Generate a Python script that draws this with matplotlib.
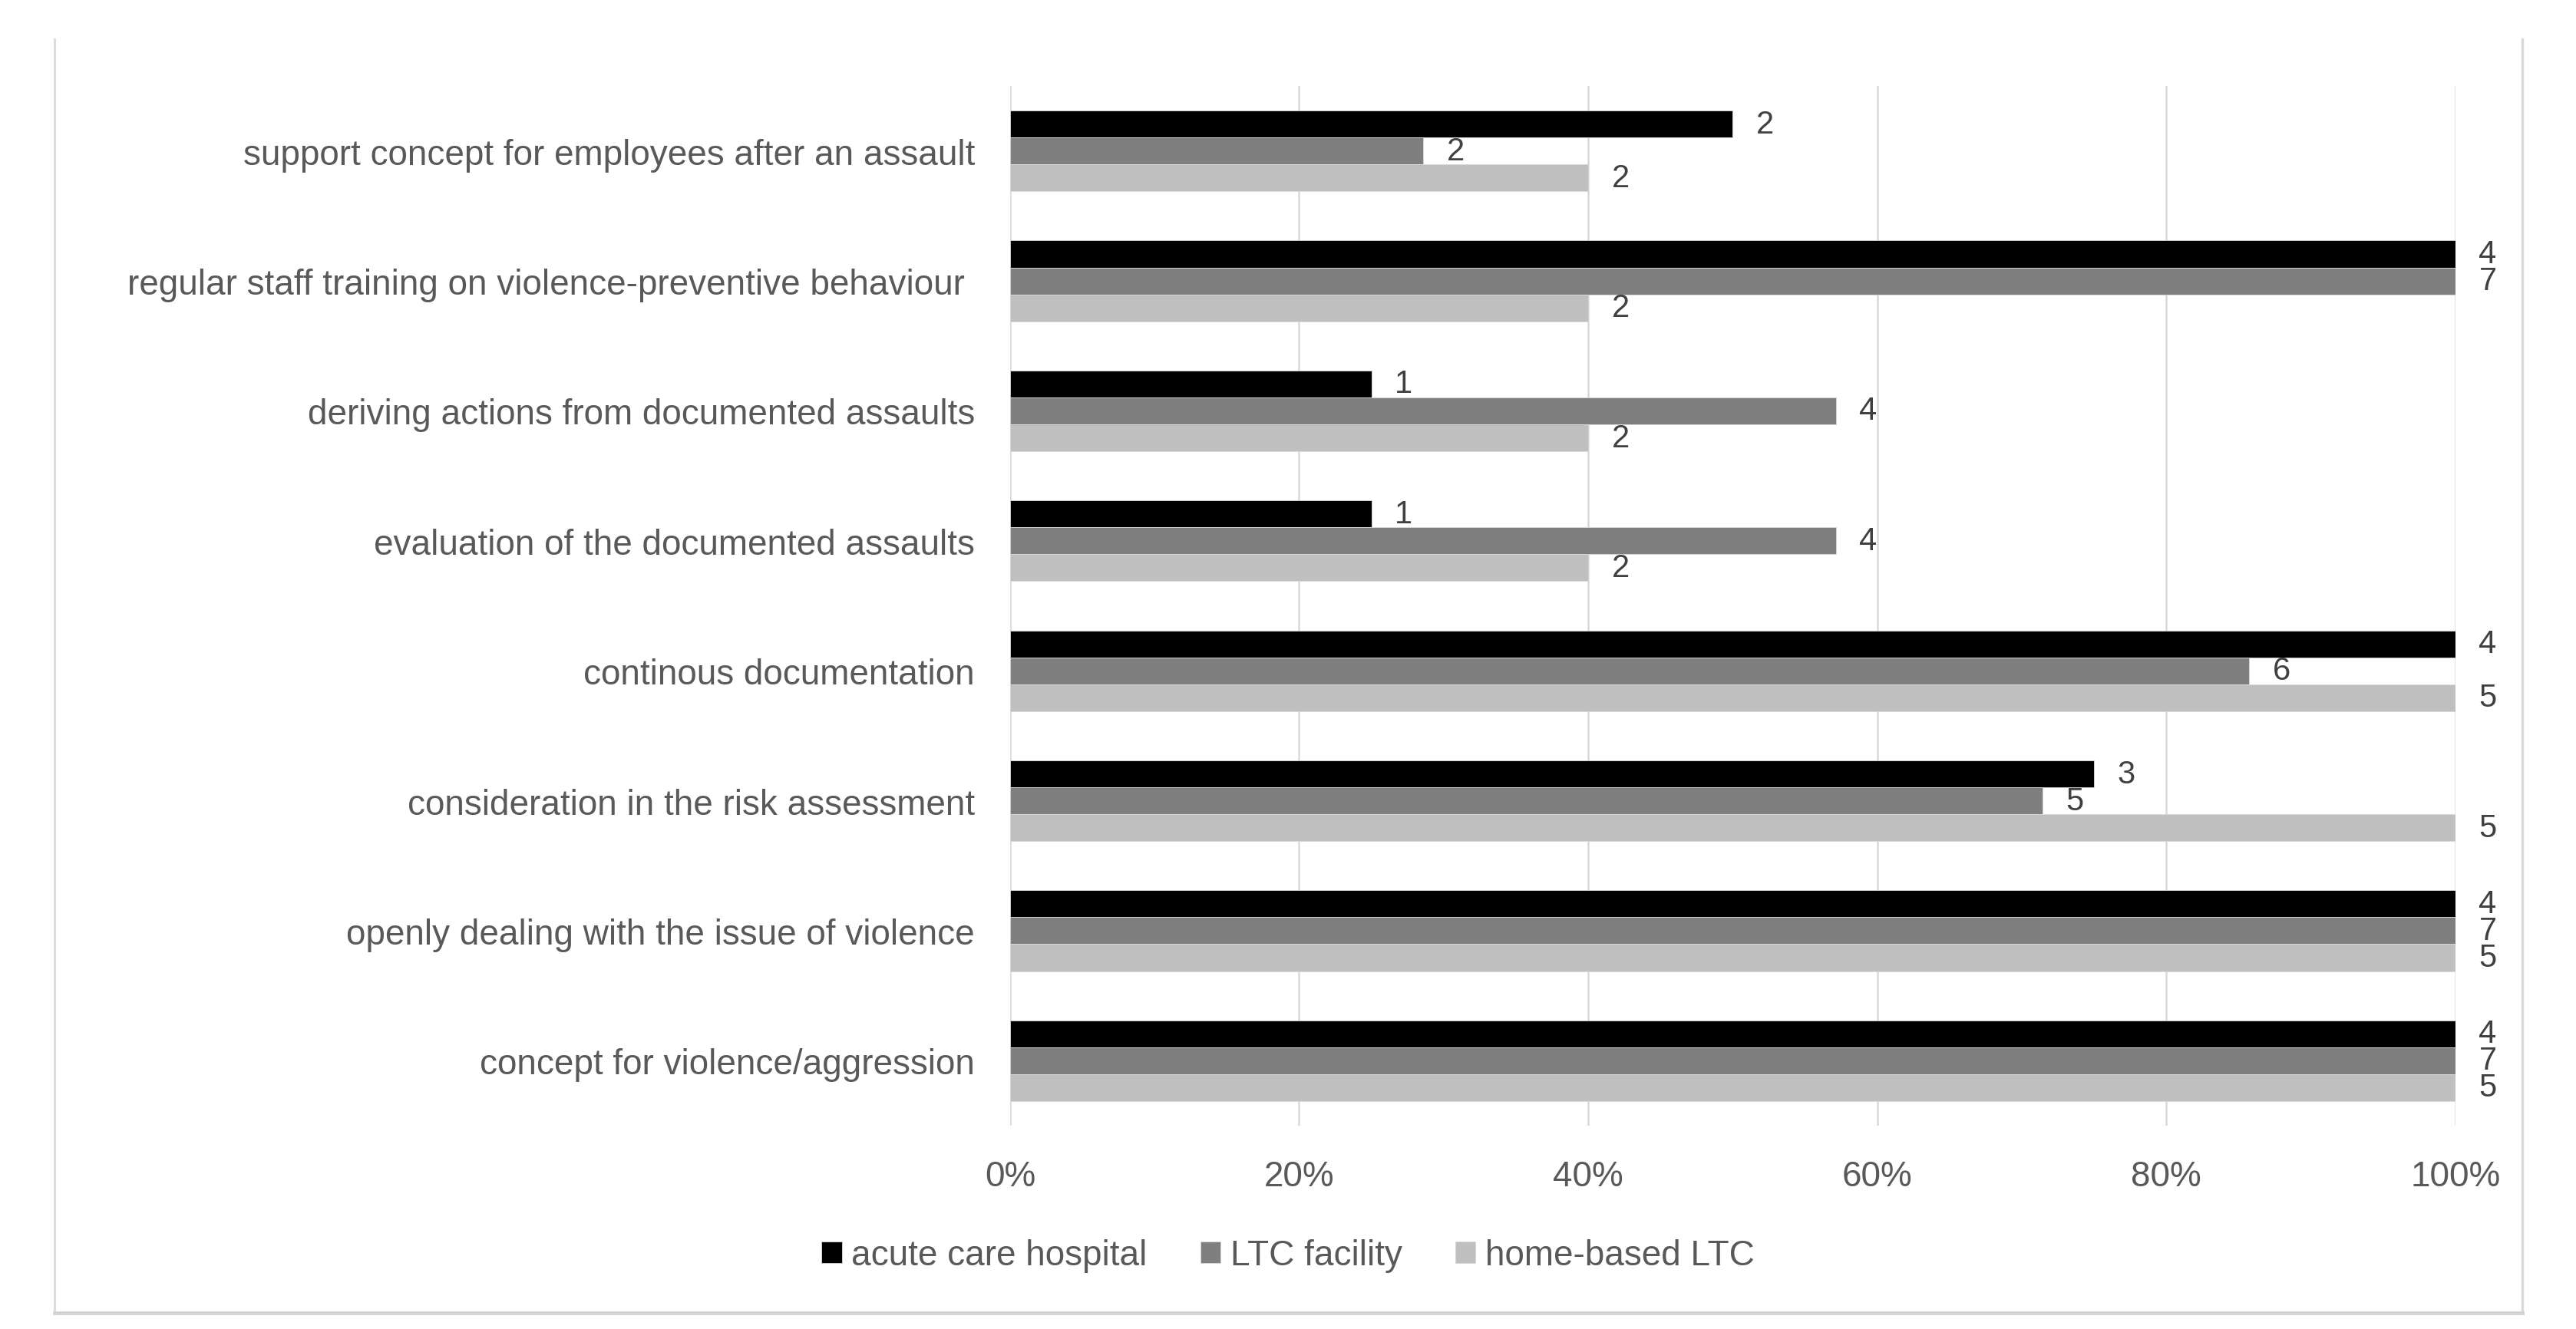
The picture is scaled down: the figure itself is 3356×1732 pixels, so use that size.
import numpy as np
import matplotlib
matplotlib.use('Agg')
import matplotlib.pyplot as plt
from matplotlib.lines import Line2D
from matplotlib.ticker import PercentFormatter

# categories, listed from bottom to top of the chart
categories = [
    'concept for violence/aggression',
    'openly dealing with the issue of violence',
    'consideration in the risk assessment',
    'continous documentation',
    'evaluation of the documented assaults',
    'deriving actions from documented assaults',
    'regular staff training on violence-preventive behaviour ',
    'support concept for employees after an assault',
]
series = ['acute care hospital', 'LTC facility', 'home-based LTC']
# number of institutions answering yes, per series
acute_counts = [4, 4, 3, 4, 1, 1, 4, 2]
ltc_counts = [7, 7, 5, 6, 4, 4, 7, 2]
home_counts = [5, 5, 5, 5, 2, 2, 2, 2]
# institutions per group
totals = [4, 7, 5]
colors = ['#000000', '#7f7f7f', '#bfbfbf']

matplotlib.rcParams['font.family'] = ['Liberation Sans', 'DejaVu Sans']
fs = 33
fs_lab = 30

fig = plt.figure(figsize=(33.56, 17.33), dpi=100)
ax = fig.add_axes([0.3921, 0.1529, 0.9532 - 0.3921, 0.9348 - 0.1529])

y = np.arange(len(categories))
h = 0.207
offsets = [h, 0, -h]
for counts, total, off, col, name in zip([acute_counts, ltc_counts, home_counts],
                                         totals, offsets, colors, series):
    share = np.array(counts) / total
    bars = ax.barh(y + off, share, height=h, color=col, label=name,
                   edgecolor='#d9d9d9', linewidth=0.6, zorder=3)
    for b, c in zip(bars, counts):
        ax.annotate(str(c), xy=(b.get_width(), b.get_y() + b.get_height() / 2),
                    xytext=(22, 0), textcoords='offset points',
                    ha='left', va='center', fontsize=fs_lab, color='#404040')

ax.set_xlim(0, 1)
ax.set_ylim(-0.5, len(categories) - 0.5)
ax.set_xticks(np.arange(0, 1.01, 0.2))
ax.xaxis.set_major_formatter(PercentFormatter(xmax=1, decimals=0))
ax.set_yticks(y)
ax.set_yticklabels(categories)
ax.tick_params(axis='both', length=0, labelsize=fs, labelcolor='#595959')
ax.tick_params(axis='y', pad=33)
ax.tick_params(axis='x', pad=32)
ax.grid(axis='x', color='#d9d9d9', linewidth=1.8, zorder=0)
for s in ax.spines.values():
    s.set_visible(False)

fig.legend(loc='center', bbox_to_anchor=(0.5, 1 - 1637 / 1733), ncol=3,
           frameon=False, fontsize=fs, labelcolor='#595959',
           handlelength=0.58, handleheight=0.58, handletextpad=0.28,
           columnspacing=1.5)

# outer chart border (left, bottom, right)
W, H = 3356, 1733
bx0, bx1, by0, by1 = 71 / W, 3286 / W, 1 - 1712 / H, 1 - 52 / H
fig.add_artist(Line2D([bx0, bx0], [by0, by1], color='#d9d9d9', linewidth=2))
fig.add_artist(Line2D([bx1, bx1], [by0, by1], color='#d9d9d9', linewidth=2.5))
fig.add_artist(Line2D([bx0, bx1], [by0, by0], color='#d4d4d4', linewidth=3.5))

fig.savefig('out.png', dpi=100)
